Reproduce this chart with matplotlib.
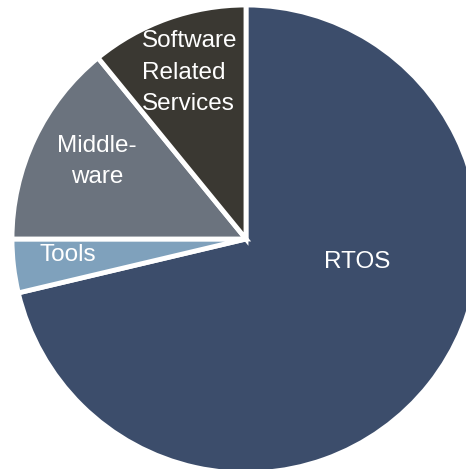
import matplotlib
matplotlib.use("Agg")
import matplotlib.pyplot as plt

# shares (percent), clockwise from 12 o'clock
labels = ["RTOS", "Tools", "Middle-\nware", "Software\nRelated\nServices"]
shares = [71.3, 3.7, 14.1, 10.9]
colors = ["#3c4d6b", "#7fa1bc", "#6b737e", "#3a3832"]

# where each label sits (data coords, pie radius = 1), last-line baseline
label_xy = [(0.474, -0.124), (-0.761, -0.094), (-0.637, 0.239), (-0.445, 0.551)]
label_ha = ["center", "center", "center", "left"]

plt.rcParams['font.family'] = ['Liberation Sans', 'DejaVu Sans']

fig = plt.figure(figsize=(4.66, 4.69), dpi=100)
ax = fig.add_axes([0, 0, 1, 1])
ax.pie(shares, colors=colors, startangle=90, counterclock=False,
       wedgeprops=dict(edgecolor="white", linewidth=3.5))

for txt, (x, y), ha in zip(labels, label_xy, label_ha):
    ax.text(x, y, txt, ha=ha, va="baseline", color="white", fontsize=17.5,
            linespacing=1.55, multialignment=ha)

ax.set_xlim(-246 / 234, (466 - 246) / 234)
ax.set_ylim(-(469 - 239) / 234, 239 / 234)
ax.set_aspect("equal")
ax.axis("off")

fig.savefig("out.png", dpi=100, facecolor="white")
